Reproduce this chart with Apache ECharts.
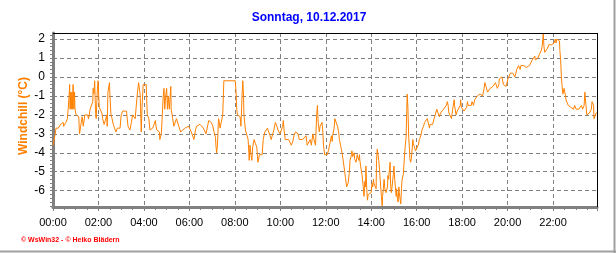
<!DOCTYPE html>
<html>
<head>
<meta charset="utf-8">
<script src="https://cdn.jsdelivr.net/npm/echarts@6/dist/echarts.min.js"></script>
<style>
html,body{margin:0;padding:0;background:#fff;}
#chart{width:616px;height:253px;}
</style>
</head>
<body>
<div id="chart"></div>
<script>
// ---- data (minutes since 00:00, windchill °C) ----
const titleText = 'Sonntag, 10.12.2017';
const yAxisName = 'Windchill (°C)';
const creditText = '\u00a9 WsWin32 - \u00a9 Heiko Blädern';
const yTickLabels = [-6, -5, -4, -3, -2, -1, 0, 1, 2];
const xTickLabels = ['00:00','02:00','04:00','06:00','08:00','10:00','12:00','14:00','16:00','18:00','20:00','22:00'];

const minutes = [
0,5,8,14,17,20,24,27,28,32,34,38,40,
42,43,44,45,46,47,48,50,51,53,54,55,57,58,60,
61,64,68,70,73,77,80,84,87,91,94,98,101,105,106,108,110,112,114,117,119,122,126,129,131,135,138,142,143,145,149,150,153,156,159,163,166,170,173,177,180,184,189,194,198,203,207,210,214,217,219,223,226,228,230,231,233,235,238,246,247,249,253,256,260,263,267,270,272,274,277,281,282,286,288,291,293,295,297,300,302,304,307,311,312,316,319,323,326,330,332,337,342,348,353,358,362,
365,369,372,376,379,384,388,393,397,401,404,407,411,415,418,422,425,429,430,432,434,437,439,441,444,448,450,451,481,483,485,487,490,494,496,497,499,501,503,504,508,511,515,517,518,520,522,525,527,531,534,538,539,541,545,548,552,555,559,561,564,566,569,573,576,580,583,587,591,594,599,603,606,608,610,613,617,622,626,629,633,636,640,643,647,650,654,659,664,668,671,675,679,682,686,689,693,696,698,700,703,
705,708,710,712,714,717,721,724,728,731,735,737,738,742,744,747,751,754,756,759,763,766,768,772,775,779,782,784,788,789,791,795,796,800,803,807,809,810,812,816,819,821,823,825,826,828,830,832,835,837,840,842,844,846,847,849,851,853,854,856,858,860,862,863,865,867,869,870,872,874,876,877,879,883,884,886,888,890,891,893,895,897,898,900,902,906,907,909,911,913,914,916,918,920,921,923,925,927,928,930,932,934,935,937,939,941,942,944,946,948,950,951,953,957,960,964,967,971,974,978,981,985,988,992,994,995,999,1002,1006,1009,1013,1016,1020,1023,1027,1031,1034,1038,1041,
1043,1045,1048,1052,1053,1055,1059,1060,1064,1067,1071,1075,1076,1078,1082,1085,1089,1092,1094,1096,1099,1101,1104,1106,1110,1113,1117,1120,1124,1127,1131,1134,1138,1140,1143,1147,1150,1154,1157,1161,1164,1168,1171,1173,1175,1177,1178,1182,1185,1187,1189,1192,1196,1199,1201,1203,1207,1210,1214,1217,1219,1221,1222,1224,1226,1229,1233,1235,1238,1240,1243,1247,1249,1250,1254,1258,1261,1265,1268,1272,1273,1277,1280,1284,1287,1289,1291,1293,1294,1296,1298,1300,1302,1305,1309,1312,1316,1319,1323,1326,1328,1330,1333,1337,1338,1340,1342,1344,1346,1347,1349,1351,1353,1354,1356,1358,1360,1363,1365,1367,1370,1374,1375,1377,1379,1381,1384,1388,1391,1395,1398,1402,1404,1405,1407,1409,1412,1416,1419,1421,1423,1425,1427,1428,1430,1434,1436
];

const windchill = [
-3.6,-3.1,-2.7,-2.7,-2.6,-2.5,-2.4,-2.4,-2.6,-2.5,-2.4,-2.2,-1.7,
-1.7,-0.8,-0.4,-1.7,-1.7,-0.8,-1.7,-0.8,-1.7,-0.4,-0.8,-1.7,-0.8,-1.7,-1.7,
-2.0,-2.1,-2.1,-3.0,-2.6,-2.1,-2.6,-2.0,-2.1,-2.0,-2.2,-1.7,-1.6,-1.3,-0.6,-0.9,-0.2,-1.7,-2.2,-0.7,-0.2,-1.6,-1.7,-1.9,-2.2,-2.5,-2.3,-2.0,-2.6,-0.8,-0.3,-0.8,-2.0,-2.2,-2.5,-2.6,-2.9,-2.7,-2.6,-2.7,-2.0,-1.8,-1.7,-1.8,-2.6,-2.8,-2.4,-2.0,-1.9,-2.2,-1.7,-0.8,-0.3,-0.3,-0.9,-1.6,-2.9,-1.6,-0.4,-0.4,-1.0,-2.0,-2.2,-2.8,-2.7,-2.7,-2.5,-2.3,-2.6,-2.8,-2.9,-2.9,-3.3,-3.0,-2.2,-1.0,-0.6,-1.7,-1.1,-0.6,-1.7,-1.0,-1.7,-0.5,-1.7,-2.2,-2.6,-2.7,-2.2,-2.2,-2.6,-2.9,-2.8,-2.7,-2.7,-2.6,-2.7,
-2.9,-3.0,-3.3,-2.8,-2.6,-2.6,-2.5,-2.6,-2.7,-2.6,-3.0,-3.1,-2.3,-2.2,-2.4,-2.6,-2.9,-3.2,-3.6,-4.0,-3.6,-2.2,-2.4,-2.7,-2.6,-2.0,-0.8,-0.2,-0.2,-0.7,-1.7,-2.0,-1.9,-2.1,-2.6,-2.1,-1.0,-0.2,-1.0,-2.0,-2.8,-2.9,-3.3,-4.0,-4.4,-3.6,-4.0,-4.4,-3.7,-3.3,-3.5,-3.7,-4.0,-4.5,-4.1,-4.0,-4.1,-3.3,-2.9,-2.8,-2.9,-2.7,-2.8,-3.1,-3.3,-3.0,-2.8,-2.4,-2.6,-2.8,-3.0,-2.8,-2.6,-2.3,-2.8,-3.3,-3.3,-3.3,-3.4,-3.6,-3.4,-3.1,-2.9,-2.8,-3.0,-3.3,-3.3,-3.3,-3.3,-3.1,-3.6,-3.5,-3.3,-3.6,-3.0,-3.3,-3.6,-2.0,-1.5,-2.4,-2.9,
-2.6,-2.5,-2.4,-2.8,-3.6,-4.1,-4.2,-4.1,-3.8,-3.5,-3.1,-3.4,-3.1,-2.7,-2.2,-2.3,-2.6,-2.9,-3.3,-3.6,-4.0,-4.1,-4.7,-5.3,-5.8,-5.6,-5.1,-4.4,-4.1,-3.9,-4.2,-4.0,-4.3,-4.5,-4.1,-4.4,-4.1,-4.4,-4.7,-5.2,-5.8,-6.3,-5.5,-5.8,-4.7,-5.8,-6.5,-6.2,-6.3,-6.2,-6.1,-5.6,-5.8,-5.4,-5.6,-5.5,-5.7,-5.9,-4.4,-3.8,-4.1,-4.4,-4.9,-5.2,-5.8,-6.3,-6.8,-6.3,-5.9,-5.4,-5.9,-6.0,-6.1,-5.8,-5.2,-5.4,-4.9,-4.5,-5.6,-6.1,-5.8,-5.4,-5.2,-4.7,-5.4,-6.3,-5.9,-6.4,-6.6,-5.8,-6.1,-6.2,-6.7,-5.9,-5.5,-5.5,-5.1,-4.4,-4.3,-3.6,-3.2,-1.7,-0.9,-1.7,-3.2,-3.8,-4.3,-4.5,-4.3,-3.8,-3.3,-3.5,-3.6,-3.9,-3.8,-3.6,-3.3,-3.1,-2.8,-2.6,-2.4,-2.3,-2.2,-2.2,-2.7,-2.5,-2.4,-2.5,-2.2,-2.0,-1.7,-1.8,-2.1,-1.9,-1.8,-1.7,-1.6,-1.5,-1.3,
-1.5,-1.9,-2.0,-2.2,-2.0,-1.7,-1.2,-1.5,-2.0,-1.8,-1.7,-1.5,-1.2,-1.6,-1.7,-1.8,-1.7,-1.6,-1.3,-1.5,-1.6,-1.4,-1.5,-1.3,-1.5,-1.2,-1.1,-1.0,-1.0,-0.9,-0.8,-1.0,-0.6,-0.3,-0.5,-0.8,-0.7,-0.6,-0.5,-0.5,-0.4,-0.3,-0.4,-0.6,-0.6,-0.4,-0.1,0.0,0.0,-0.1,-0.4,-0.5,-0.5,-0.4,-0.1,0.0,0.2,0.2,0.2,0.2,0.0,-0.1,0.2,0.4,0.3,0.6,0.4,0.6,0.6,0.7,0.6,0.6,0.5,0.6,0.6,0.6,0.7,0.9,1.0,1.1,0.9,0.9,1.0,1.2,1.2,1.4,1.6,2.0,2.3,1.6,1.3,1.4,1.4,1.5,1.7,1.8,1.7,1.8,1.8,2.0,1.8,2.0,2.1,1.9,1.4,0.9,0.0,-0.5,-0.9,-0.8,-0.6,-0.8,-1.0,-1.2,-1.1,-1.3,-1.5,-1.5,-1.5,-1.6,-1.7,-1.7,-1.6,-1.5,-1.5,-1.7,-1.8,-1.7,-1.6,-1.5,-1.7,-1.5,-0.8,-1.1,-1.5,-2.0,-2.0,-1.9,-2.0,-1.7,-1.3,-1.2,-1.5,-2.2,-2.1,-1.9,-1.9
];

const yMin = -6.86, yMax = 2.32, xMax = 1436;

const seriesData = minutes.map((m, i) => [m, windchill[i]]);
const minorY = [];
for (let k = Math.ceil(yMin * 5); k <= Math.floor(yMax * 5); k++) minorY.push(k / 5);

const chart = echarts.init(document.getElementById('chart'), null, {renderer: 'canvas'});
const gridL = 53, gridT = 33, gridR = 597, gridB = 207;
const font = '"Liberation Sans", Arial, sans-serif';

chart.setOption({
  animation: false,
  backgroundColor: '#ffffff',
  grid: {left: gridL, top: gridT, width: gridR - gridL, height: gridB - gridT, show: false},
  xAxis: {
    type: 'value', min: 0, max: xMax, interval: 120,
    axisLine: {show: true, onZero: false, lineStyle: {color: '#808080', width: 3}},
    axisTick: {show: true, length: 4, lineStyle: {color: '#808080', width: 1}},
    minorTick: {show: true, splitNumber: 4, length: 3, lineStyle: {color: '#808080', width: 1}},
    axisLabel: {
      show: true, margin: 10, fontSize: 11, color: '#000', fontFamily: font,
      formatter: v => (v % 120 === 0 && v / 120 < xTickLabels.length) ? xTickLabels[v / 120] : ''
    },
    splitLine: {show: true, lineStyle: {color: '#808080', width: 1, type: [4, 3]}},
    minorSplitLine: {show: false}
  },
  yAxis: {
    type: 'value', min: yMin, max: yMax,
    axisLine: {show: true, onZero: false, lineStyle: {color: '#808080', width: 3}},
    axisTick: {show: true, length: 3, customValues: minorY, lineStyle: {color: '#808080', width: 1}},
    axisLabel: {show: true, customValues: yTickLabels, margin: 8, fontSize: 12, color: '#000', fontFamily: font},
    splitLine: {show: false}
  },
  series: [
    {
      type: 'line', data: [], z: 1, silent: true,
      markLine: {
        silent: true, symbol: 'none', animation: false,
        label: {show: false},
        lineStyle: {color: '#808080', width: 1, type: [4, 3]},
        data: yTickLabels.map(v => ({yAxis: v}))
      }
    },
    {
      type: 'line', data: seriesData, z: 5,
      showSymbol: false, symbol: 'none',
      lineStyle: {color: '#ff8000', width: 1},
      itemStyle: {color: '#ff8000'}
    }
  ],
  graphic: [
    {type: 'line', z: 100, shape: {x1: gridL, y1: gridT + 0.5, x2: gridR + 0.5, y2: gridT + 0.5}, style: {stroke: '#000', lineWidth: 1}},
    {type: 'line', z: 100, shape: {x1: gridR + 0.5, y1: gridT, x2: gridR + 0.5, y2: gridB}, style: {stroke: '#000', lineWidth: 1}},
    {type: 'text', z: 100, x: 309, y: 18, style: {text: titleText, fill: '#0000ff', font: 'bold 12px ' + font, align: 'center', verticalAlign: 'middle'}},
    {type: 'text', z: 100, x: 24, y: 116, rotation: Math.PI / 2, style: {text: yAxisName, fill: '#ff8000', font: 'bold 12px ' + font, align: 'center', verticalAlign: 'middle'}},
    {type: 'text', z: 100, x: 21, y: 240, style: {text: creditText, fill: '#ff0000', font: 'bold 7px ' + font, align: 'left', verticalAlign: 'middle'}},
    {type: 'line', z: 100, shape: {x1: 614.5, y1: 0, x2: 614.5, y2: 253}, style: {stroke: '#a0a0a0', lineWidth: 2}},
    {type: 'line', z: 100, shape: {x1: 0, y1: 251.5, x2: 616, y2: 251.5}, style: {stroke: '#a0a0a0', lineWidth: 2}}
  ]
});
</script>
</body>
</html>
